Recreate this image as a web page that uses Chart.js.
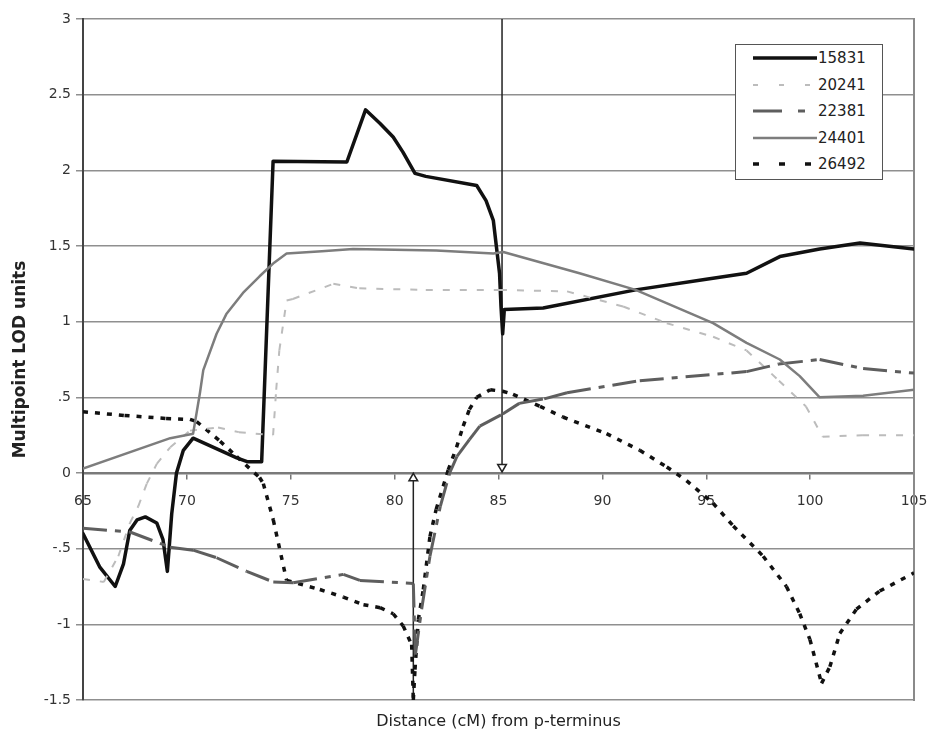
<!DOCTYPE html>
<html><head><meta charset="utf-8">
<script src="https://cdn.jsdelivr.net/npm/chart.js@4/dist/chart.umd.min.js"></script>
<style>
html,body{margin:0;padding:0;background:#fff;}
#wrap{position:relative;width:930px;height:736px;overflow:hidden;}
#legend{position:absolute;left:735px;top:44px;width:148px;height:136px;box-sizing:border-box;border:1px solid #555;background:#fff;font-family:"DejaVu Sans",sans-serif;font-size:15px;color:#222;}
.row{position:absolute;left:0;height:20px;display:flex;align-items:center;}
.row svg{display:block;margin-left:17px;margin-right:1px;}
</style></head><body>
<div id="wrap"><canvas id="c" width="930" height="736"></canvas><div id="legend"></div></div>
<script>
// ---- data ----
const seriesNames = ['15831', '20241', '22381', '24401', '26492'];

const s15831_x = [65, 65.8, 66.55, 66.95, 67.25, 67.6, 68.0, 68.55, 68.85, 69.06, 69.15, 69.27, 69.5, 69.83, 70.3, 72.4, 72.9, 73.6, 74.15, 77.7, 78.6, 79.3, 79.93, 80.4, 80.98, 81.5, 83.95, 84.4, 84.75, 85.05, 85.12, 85.2, 85.28, 87.15, 91.6, 95.0, 96.94, 98.54, 100.46, 102.4, 105];
const s15831_y = [-0.40, -0.62, -0.75, -0.60, -0.38, -0.31, -0.29, -0.33, -0.44, -0.65, -0.49, -0.27, 0.0, 0.15, 0.23, 0.10, 0.075, 0.075, 2.06, 2.055, 2.40, 2.31, 2.22, 2.12, 1.98, 1.96, 1.90, 1.80, 1.67, 1.32, 1.10, 0.92, 1.08, 1.09, 1.21, 1.28, 1.32, 1.43, 1.48, 1.52, 1.48];

const s20241_x = [65, 66.0, 66.7, 67.26, 67.66, 68.07, 68.55, 69.2, 70.15, 71.5, 72.5, 74.15, 74.3, 74.45, 74.8, 75.1, 77.05, 78.3, 81.5, 85.07, 88.3, 91.0, 93.1, 95.33, 96.94, 98.5, 99.8, 100.6, 102.5, 105];
const s20241_y = [-0.70, -0.72, -0.55, -0.33, -0.22, -0.07, 0.06, 0.17, 0.28, 0.30, 0.27, 0.25, 0.55, 0.81, 1.14, 1.15, 1.25, 1.22, 1.21, 1.21, 1.20, 1.10, 0.99, 0.90, 0.81, 0.61, 0.44, 0.24, 0.25, 0.25];

const s22381_x = [65, 67.26, 69.19, 70.3, 71.43, 72.88, 74.16, 75.12, 77.53, 78.33, 80.9, 81.0, 81.3, 81.7, 82.2, 82.65, 83.0, 83.6, 84.1, 85.2, 86.0, 87.2, 88.3, 91.8, 96.94, 98.5, 100.46, 102.55, 105];
const s22381_y = [-0.365, -0.39, -0.49, -0.51, -0.56, -0.65, -0.72, -0.725, -0.67, -0.71, -0.73, -1.2, -0.9, -0.55, -0.22, 0.0, 0.11, 0.22, 0.31, 0.39, 0.46, 0.49, 0.53, 0.61, 0.67, 0.72, 0.75, 0.69, 0.66];

const s24401_x = [65, 69.2, 70.3, 70.63, 70.79, 71.43, 71.9, 72.7, 73.5, 74.2, 74.8, 76.5, 78.0, 80.0, 82.0, 84.75, 85.23, 88.9, 91.6, 95.33, 96.94, 98.54, 99.5, 100.46, 102.55, 105];
const s24401_y = [0.03, 0.23, 0.26, 0.53, 0.68, 0.92, 1.05, 1.19, 1.30, 1.39, 1.45, 1.465, 1.48, 1.475, 1.47, 1.45, 1.46, 1.32, 1.21, 0.99, 0.86, 0.75, 0.64, 0.50, 0.51, 0.55];

const s26492_x = [65, 67, 69, 70.15, 70.47, 71.6, 72.4, 73.5, 73.68, 74.16, 74.8, 76.4, 77.53, 78.5, 79.3, 79.93, 80.41, 80.82, 80.9, 80.98, 81.14, 81.38, 81.7, 82.0, 82.58, 82.98, 83.3, 83.6, 83.95, 84.6, 85.2, 85.7, 87.0, 88.1, 90.2, 91.8, 93.1, 94.05, 95.33, 96.3, 97.74, 98.86, 99.5, 99.99, 100.55, 100.95, 101.43, 102.23, 103.35, 105];
const s26492_y = [0.405, 0.38, 0.36, 0.354, 0.34, 0.21, 0.108, -0.03, -0.07, -0.31, -0.71, -0.77, -0.82, -0.87, -0.89, -0.93, -1.01, -1.135, -1.5, -1.30, -0.97, -0.77, -0.42, -0.24, 0.02, 0.17, 0.31, 0.42, 0.50, 0.55, 0.54, 0.52, 0.44, 0.37, 0.26, 0.15, 0.04, -0.05, -0.20, -0.35, -0.55, -0.75, -0.93, -1.10, -1.39, -1.28, -1.06, -0.90, -0.78, -0.66];

// marker arrows (x position, y from, y to)
const arrowDown_x = [85.17, 85.17];
const arrowDown_y = [3, 0.04];
const arrowUp_x = [80.9, 80.9];
const arrowUp_y = [-1.5, -0.035];

const xTickValues = [65, 70, 75, 80, 85, 90, 95, 100, 105];
const yTickValues = [-1.5, -1, -0.5, 0, 0.5, 1, 1.5, 2, 2.5, 3];
const yTickLabels = ['-1.5', '-1', '-.5', '0', '.5', '1', '1.5', '2', '2.5', '3'];

// ---- styles ----
const styles = {
  '15831': {color: '#111111', width: 3.5, dash: [], legendDash: []},
  '20241': {color: '#bcbcbc', width: 2, dash: [7, 10], legendDash: [5, 21]},
  '22381': {color: '#5e5e5e', width: 3, dash: [24, 8, 6, 8], legendDash: [29, 16, 7, 12]},
  '24401': {color: '#7d7d7d', width: 2.5, dash: [], legendDash: []},
  '26492': {color: '#111111', width: 3.5, dash: [5, 7], legendDash: [6, 20]}
};
const xs = {'15831': s15831_x, '20241': s20241_x, '22381': s22381_x, '24401': s24401_x, '26492': s26492_x};
const ys = {'15831': s15831_y, '20241': s20241_y, '22381': s22381_y, '24401': s24401_y, '26492': s26492_y};

const pts = (x, y) => x.map((v, i) => ({x: v, y: y[i]}));

// Excel restarts the dash pattern at every data point: split each segment
const restartDash = {borderDashOffset: ctx => (ctx.p0DataIndex % 2) ? 0.0001 : 0};

const drawOrder = ['24401', '22381', '20241', '26492', '15831'];
const datasets = drawOrder.map(name => {
  const st = styles[name];
  return {
    label: name,
    data: pts(xs[name], ys[name]),
    borderColor: st.color,
    borderWidth: st.width,
    borderDash: st.dash,
    borderJoinStyle: 'round',
    borderCapStyle: st.dash.length ? 'butt' : 'round',
    pointRadius: 0,
    tension: 0,
    fill: false,
    segment: st.dash.length ? restartDash : undefined
  };
});
datasets.push({
  label: 'arrowDown', data: pts(arrowDown_x, arrowDown_y),
  borderColor: '#222', borderWidth: 1.5, pointRadius: [0, 5], pointStyle: 'triangle',
  pointRotation: 180, pointBackgroundColor: '#fff', pointBorderColor: '#222', pointBorderWidth: 1.5
});
datasets.push({
  label: 'arrowUp', data: pts(arrowUp_x, arrowUp_y),
  borderColor: '#222', borderWidth: 1.5, pointRadius: [0, 5], pointStyle: 'triangle',
  pointRotation: 0, pointBackgroundColor: '#fff', pointBorderColor: '#222', pointBorderWidth: 1.5
});

const FONT = '"DejaVu Sans", sans-serif';
new Chart(document.getElementById('c'), {
  type: 'line',
  data: {datasets},
  options: {
    responsive: false,
    animation: false,
    devicePixelRatio: 1,
    layout: {padding: {left: 0, top: 19, right: 0, bottom: 0}},
    plugins: {
      legend: {display: false},
      tooltip: {enabled: false},
      title: {
        display: true, position: 'bottom', fullSize: false,
        text: 'Distance (cM) from p-terminus',
        color: '#222', font: {family: FONT, size: 16, weight: 'normal'},
        padding: {top: 12.4, bottom: 4.4}
      }
    },
    scales: {
      x: {
        type: 'linear', min: 65, max: 105,
        position: {y: 0},
        afterBuildTicks: s => { s.ticks = xTickValues.map(v => ({value: v})); },
        afterFit: s => { s.paddingLeft = 0; s.paddingRight = 0; },
        ticks: {color: '#333', font: {family: FONT, size: 14}, padding: 15, maxRotation: 0, autoSkip: false},
        grid: {drawOnChartArea: false, drawTicks: true, tickLength: 5, color: '#777', lineWidth: 1.5},
        border: {display: true, color: '#7a7a7a', width: 2.5}
      },
      y: {
        type: 'linear', min: -1.5, max: 3, position: 'left',
        afterBuildTicks: s => { s.ticks = yTickValues.map(v => ({value: v})); },
        afterFit: s => { s.width = 83; },
        ticks: {
          color: '#333', font: {family: FONT, size: 14}, padding: 5,
          callback: v => { const i = yTickValues.findIndex(t => Math.abs(t - v) < 1e-9); return i >= 0 ? yTickLabels[i] : ''; }
        },
        grid: {color: '#8f8f8f', lineWidth: 1.5, tickLength: 7, drawTicks: true},
        border: {display: true, color: '#444', width: 2},
        title: {display: true, text: 'Multipoint LOD units', color: '#222', font: {family: FONT, size: 17, weight: 'bold'}, padding: {top: 10, bottom: 0}}
      },
      yR: {
        type: 'linear', min: -1.5, max: 3, position: 'right',
        afterFit: s => { s.width = 16; },
        ticks: {display: false},
        grid: {display: false},
        border: {display: true, color: '#8a8a8a', width: 2}
      }
    }
  }
});

// legend (HTML, real text)
const legend = document.getElementById('legend');
const rowTops = [3, 29.5, 56, 82.5, 109];
seriesNames.forEach((name, i) => {
  const st = styles[name];
  const row = document.createElement('div');
  row.className = 'row';
  row.style.top = rowTops[i] + 'px';
  const svgNS = 'http://www.w3.org/2000/svg';
  const svg = document.createElementNS(svgNS, 'svg');
  svg.setAttribute('width', '64'); svg.setAttribute('height', '20');
  const ln = document.createElementNS(svgNS, 'line');
  ln.setAttribute('x1', '0'); ln.setAttribute('x2', '64');
  ln.setAttribute('y1', '10'); ln.setAttribute('y2', '10');
  ln.setAttribute('stroke', st.color);
  ln.setAttribute('stroke-width', st.width);
  if (st.legendDash.length) ln.setAttribute('stroke-dasharray', st.legendDash.join(' '));
  svg.appendChild(ln);
  const txt = document.createElement('span');
  txt.textContent = name;
  row.appendChild(svg); row.appendChild(txt);
  legend.appendChild(row);
});
</script>
</body></html>
